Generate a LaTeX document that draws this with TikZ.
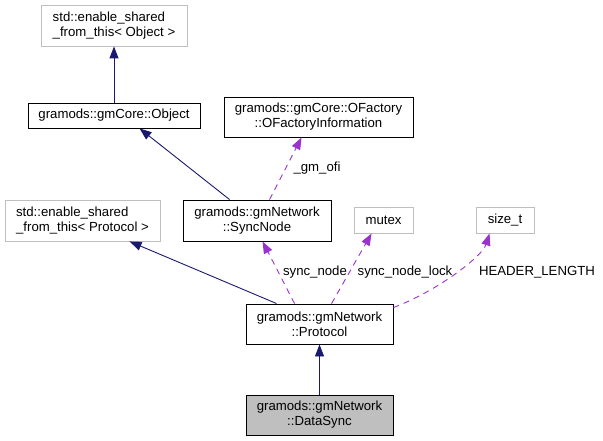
\documentclass[tikz,border=0pt]{standalone}
\usepackage{fontspec}
\setmainfont{Liberation Sans}
\usetikzlibrary{arrows.meta,calc}
\definecolor{mblue}{HTML}{191970}
\definecolor{orchid}{HTML}{9A32CD}
\definecolor{lgray}{HTML}{BFBFBF}
\begin{document}
\begin{tikzpicture}[x=1bp,y=-1bp,
  every node/.style={font=\fontsize{13.2bp}{15bp}\selectfont},
  cls/.style={draw=black,line width=0.9bp,fill=white,inner sep=0pt,align=center},
  ext/.style={draw=lgray,line width=0.9bp,fill=white,inner sep=0pt,align=left},
  cur/.style={cls,fill=lgray},
  inh/.style={draw=mblue,line width=0.9bp,-{Triangle[length=12bp,width=9bp]}},
  use/.style={draw=orchid,line width=0.9bp,dash pattern=on 6bp off 5bp,-{Triangle[length=12bp,width=9bp]}},
  lbl/.style={inner sep=0pt,anchor=center}]
\useasboundingbox (0,0) rectangle (603,441);
\node[ext,minimum width=146bp,minimum height=41bp] (esfo) at (114,25.5) {std::enable\_shared\\\_from\_this< Object >};
\node[cls,minimum width=172bp,minimum height=25bp] (obj) at (114,115.5) {gramods::gmCore::Object};
\node[cls,minimum width=189bp,minimum height=40bp] (ofi) at (318.5,117) {gramods::gmCore::OFactory\\::OFactoryInformation};
\node[cls,minimum width=148bp,minimum height=41bp] (sync) at (257,220.5) {gramods::gmNetwork\\::SyncNode};
\node[ext,minimum width=155bp,minimum height=41bp] (esfp) at (82.5,220.5) {std::enable\_shared\\\_from\_this< Protocol >};
\node[ext,align=center,minimum width=59bp,minimum height=26bp] (mutex) at (383.5,220) {mutex};
\node[ext,align=center,minimum width=58bp,minimum height=26bp] (sizet) at (505,220) {size\_t};
\node[cls,minimum width=147bp,minimum height=40bp] (proto) at (319.5,324) {gramods::gmNetwork\\::Protocol};
\node[cur,minimum width=147bp,minimum height=40bp] (ds) at (319.5,415) {gramods::gmNetwork\\::DataSync};

\draw[inh] (obj) -- (esfo);
\draw[inh] ([xshift=47bp]sync.north west) -- ([xshift=112bp]obj.south west);
\draw[use] ([xshift=87bp]sync.north west) -- ([xshift=78bp]ofi.south west);
\draw[inh] ([xshift=31bp]proto.north west) -- ([xshift=125bp]esfp.south west);
\draw[use] ([xshift=49bp]proto.north west) -- ([xshift=80bp]sync.south west);
\draw[use] ([xshift=86bp]proto.north west) -- ([xshift=18bp]mutex.south west);
\draw[use] ([yshift=-4bp]proto.north east) .. controls ([xshift=47bp,yshift=14bp]proto.north east) and ([xshift=7bp,yshift=-22bp]sizet.south west) .. ([xshift=14bp]sizet.south west);
\draw[inh] (ds) -- (proto);

\node[lbl] (l1) at (317,168) {\_gm\_ofi};
\node[lbl] (l2) at (315,272) {sync\_node};
\node[lbl] (l3) at (405,272) {sync\_node\_lock};
\node[lbl] (l4) at (537,272) {HEADER\_LENGTH};
\end{tikzpicture}
\end{document}
